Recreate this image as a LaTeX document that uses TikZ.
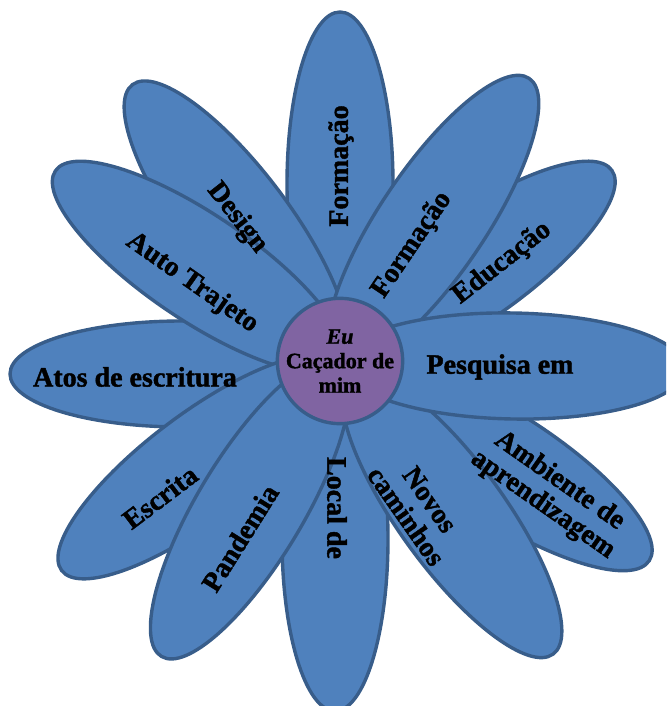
\documentclass[tikz,border=0pt]{standalone}
\usepackage{fontspec}
\setmainfont{Liberation Serif}[BoldFeatures={FakeBold=1.5},BoldItalicFeatures={FakeBold=1.5}]
\usepackage{tikz}
\usepackage{xcolor}
\definecolor{petala}{RGB}{79,129,189}
\definecolor{contorno}{RGB}{56,93,138}
\definecolor{miolo}{RGB}{128,100,162}

\begin{document}
\begin{tikzpicture}[x=1pt,y=1pt,
    petala/.style={draw=contorno,fill=petala,line width=3.4pt},
    rotulo/.style={font=\fontsize{28}{29}\selectfont\bfseries,align=center,inner sep=0pt}]

    % Area da figura
    \useasboundingbox (0,0) rectangle (666,706);
    \clip (0,0) rectangle (666,706);

    % Desenha as petalas (centro x / centro y / angulo), de baixo para cima
    \foreach \px/\py/\ang in {340/522/90, 182/332/180, 471/437/35, 505/239/-33, 335/167/-90,
                              236/484/127, 433/485/56, 198/439/146, 199/239/-143,
                              250/197/-121, 452/191/-54, 513/340/-1}
        \draw[petala,rotate around={\ang:(\px,\py)}] (\px,\py) ellipse [x radius=172,y radius=53];

    % Miolo da flor
    \node[circle,draw=contorno,fill=miolo,line width=3.4pt,minimum size=121pt,inner sep=0pt,
          align=center,font=\fontsize{22}{24.5}\selectfont\bfseries] (eu) at (340,345)
          {\textit{Eu}\\Caçador de\\mim};

    % Textos das petalas
    \node[rotulo,rotate=90] (formacaoA) at (341,540) {Formação};
    \node[rotulo,rotate=56] (formacaoB) at (412,461) {Formação};
    \node[rotulo,rotate=38] (educacao) at (502,443) {Educação};
    \node[rotulo] (pesquisa) at (500,339) {Pesquisa em};
    \node[rotulo,rotate=-35] (ambiente) at (551,213) {Ambiente de\\aprendizagem};
    \node[rotulo,rotate=-55] (novos) at (418,198) {Novos\\caminhos};
    \node[rotulo,rotate=-90] (local) at (337,198) {Local de};
    \node[rotulo,rotate=58] (pandemia) at (240,168) {Pandemia};
    \node[rotulo,rotate=37] (escrita) at (160,209) {Escrita};
    \node[rotulo] (atos) at (135,329) {Atos de escritura};
    \node[rotulo,rotate=-35] (auto) at (192,423) {Auto Trajeto};
    \node[rotulo,rotate=-52] (design) at (237,488) {Design};

\end{tikzpicture}
\end{document}
